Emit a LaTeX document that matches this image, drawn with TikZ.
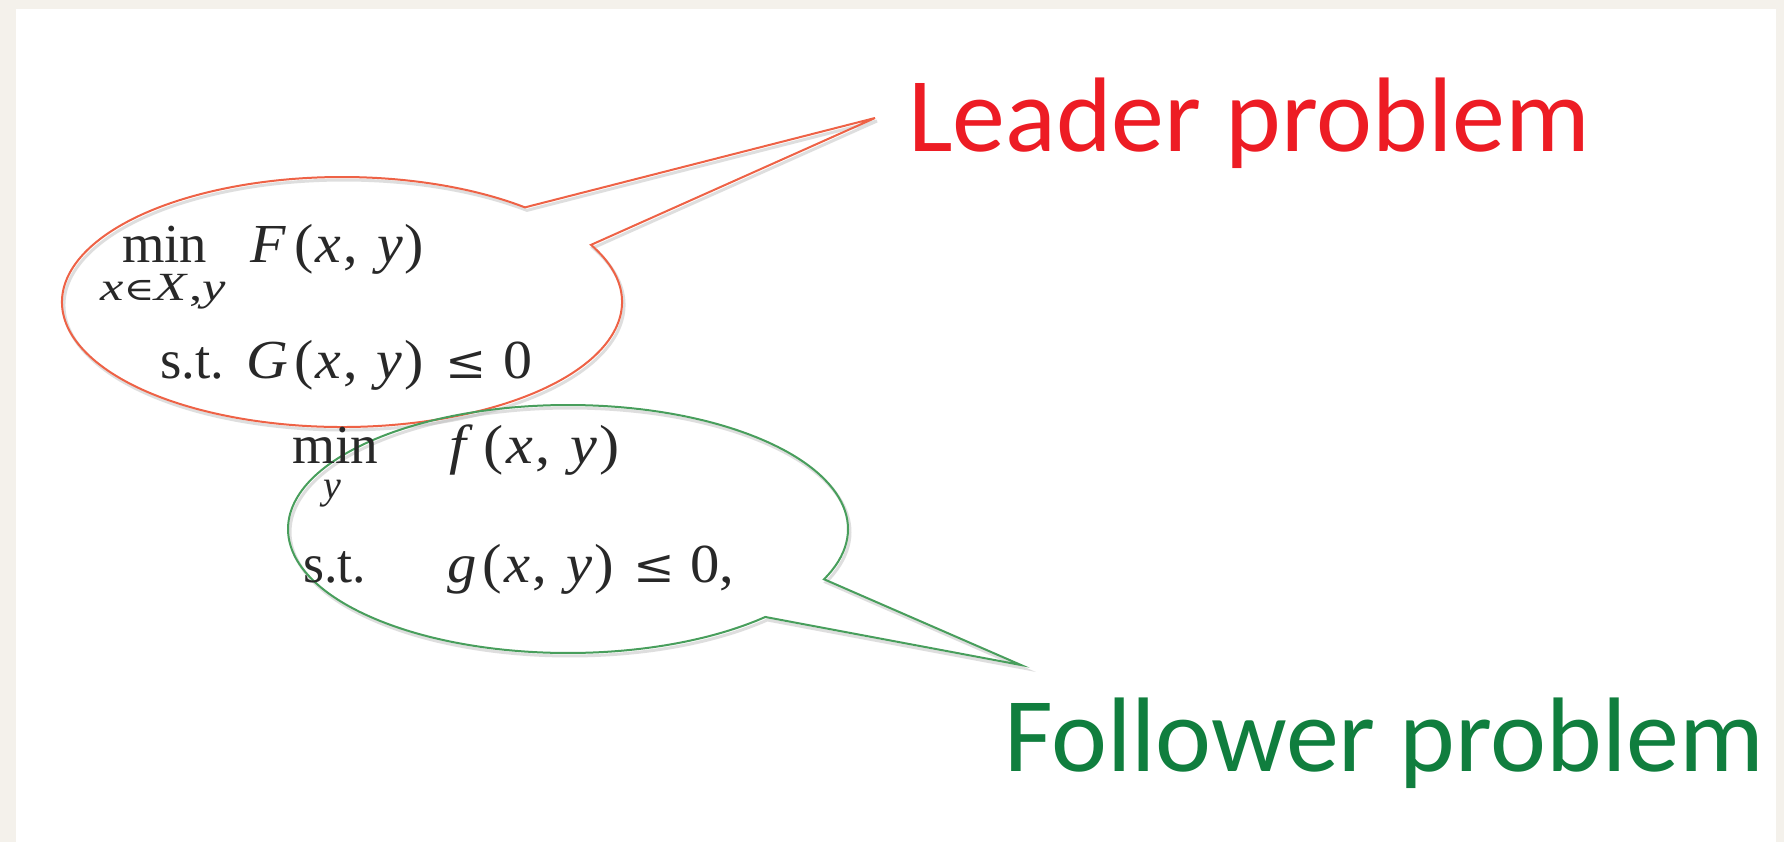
\documentclass[tikz,border=0pt]{standalone}
\usepackage{graphicx}
\usepackage{fontspec}
\newfontfamily\labfont{Carlito}
\newfontfamily\tmsfont{Liberation Serif}
\newfontfamily\symfont{DejaVu Serif}
\definecolor{bgcream}{RGB}{244,241,235}
\definecolor{leadred}{RGB}{237,28,36}
\definecolor{follgreen}{RGB}{16,126,62}
\definecolor{leadline}{RGB}{238,98,70}
\definecolor{follline}{RGB}{72,158,92}
\definecolor{mathtext}{RGB}{40,40,40}
\tikzset{
  mtext/.style={inner sep=0pt, anchor=base west, text=mathtext, font=\tmsfont\fontsize{55}{60}\selectfont},
  subtext/.style={inner sep=0pt, anchor=base west, text=mathtext, font=\tmsfont\fontsize{40}{44}\selectfont},
  bigtext/.style={inner sep=0pt, anchor=base west, font=\labfont\fontsize{106}{112}\selectfont},
  bubble/.style={line width=2pt, line join=miter},
  bshadow/.style={line width=3pt, draw=black!25, opacity=0.5},
}
\newcommand{\leqsym}{{\symfont\scalebox{0.85}{≤}}}
\newcommand{\insym}{{\symfont\scalebox{0.8}{∈}}}
\newcommand{\wfit}[2]{\resizebox{#1pt}{\height}{#2}}
\newcommand{\pair}{(\kern2pt\textit{x}\kern2pt,\kern18pt\textit{y}\kern2pt)}
\begin{document}
\begin{tikzpicture}[x=1pt,y=-1pt]
\useasboundingbox (0,0) rectangle (1784,842);
\fill[bgcream] (0,0) rectangle (1784,842);
\fill[white] (16,9) rectangle (1776,842);
% leader bubble
\draw[bshadow] (344,305) ++(-27.2:280 and 125) arc[start angle=-27.2, end angle=310.8, x radius=280, y radius=125] -- (877,121) -- cycle;
\draw[bubble, draw=leadline] (342,302) ++(-27.2:280 and 125) coordinate (lb1) arc[start angle=-27.2, end angle=310.8, x radius=280, y radius=125] coordinate (lb2) -- (875,118) coordinate (ltip) -- cycle;
% follower bubble
\draw[bshadow] (570,532) ++(45.2:280 and 124) arc[start angle=45.2, end angle=383.9, x radius=280, y radius=124] -- (1023,668) -- cycle;
\draw[bubble, draw=follline] (568,529) ++(45.2:280 and 124) coordinate (fb1) arc[start angle=45.2, end angle=383.9, x radius=280, y radius=124] coordinate (fb2) -- (1021,665) coordinate (ftip) -- cycle;
% leader problem text
\node[mtext] (lmin) at (122,262) {\wfit{85}{min}};
\node[subtext] (lsub) at (100,300) {\wfit{126}{\textit{x}\insym\textit{X}\kern1pt,\textit{y}}};
\node[mtext] (lF) at (250,262) {\wfit{174}{\textit{F}\kern8pt\pair}};
\node[mtext] (lst) at (160,378) {\wfit{64}{s.t.}};
\node[mtext] (lG) at (246,378) {\wfit{286}{\textit{G}\kern6pt\pair\kern20pt\leqsym\kern16pt 0}};
% follower problem text
\node[mtext] (fmin) at (292,463) {\wfit{86}{min}};
\node[subtext, anchor=base] (fsub) at (332,498) {\textit{y}};
\node[mtext] (ff) at (449,463) {\wfit{170}{\textit{f}\kern10pt\pair}};
\node[mtext] (fst) at (303,582) {\wfit{63}{s.t.}};
\node[mtext] (fg) at (447,582) {\wfit{287}{\textit{g}\kern6pt\pair\kern18pt\leqsym\kern14pt 0,}};
% labels
\node[bigtext, text=leadred] (leader) at (908,152) {Leader problem};
\node[bigtext, text=follgreen] (follower) at (1004,771) {Follower problem};
\end{tikzpicture}
\end{document}
